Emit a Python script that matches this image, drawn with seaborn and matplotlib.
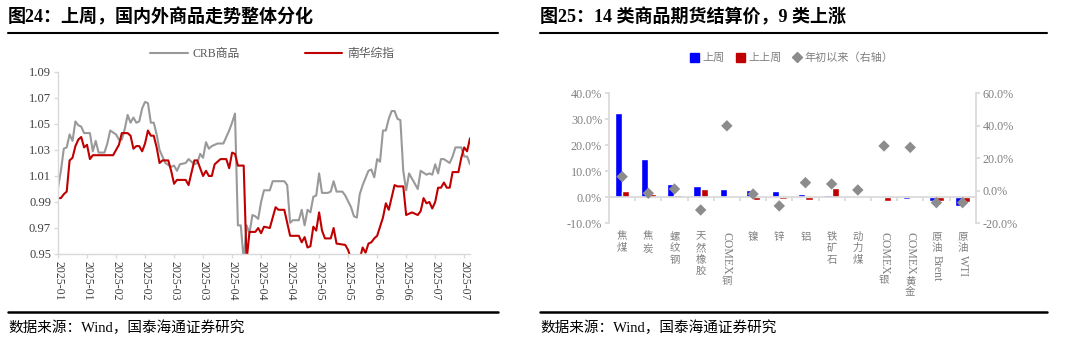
import matplotlib
matplotlib.use("Agg")
import matplotlib.pyplot as plt
import seaborn as sns
import numpy as np
import pandas as pd
from matplotlib.lines import Line2D
from matplotlib.patches import Patch

# ---------------- data: left chart (trading-day index, value) ----------------
crb_day = [0, 1, 2, 3, 4, 5, 6, 7, 8, 9, 10, 11, 12, 13, 14, 16, 17, 18, 20, 21, 22, 23, 24, 25,
           26, 27, 28, 29, 30, 31, 32, 33, 34, 35, 36, 37, 39, 40, 41, 42, 44, 45, 47, 48, 49, 50,
           51, 52, 53, 55, 57, 59, 60, 61, 62, 63, 64, 65, 66, 67, 68, 69, 70, 71, 73, 74, 78, 79,
           80, 81, 83, 84, 85, 86, 87, 88, 89, 90, 91, 93, 94, 95, 96, 98, 99, 101, 102, 103, 104,
           105, 107, 108, 109, 110, 111, 112, 113, 114, 115, 116, 117, 118, 119, 120, 121, 124,
           125, 127, 128, 129, 130, 131, 132, 133, 135, 136, 137, 139, 140, 141, 142]
crb_value = [1.001, 1.014, 1.031, 1.032, 1.042, 1.037, 1.052, 1.049, 1.048, 1.043, 1.043, 1.043,
             1.029, 1.037, 1.028, 1.028, 1.035, 1.045, 1.042, 1.038, 1.038, 1.046, 1.057, 1.051,
             1.055, 1.051, 1.052, 1.062, 1.067, 1.066, 1.051, 1.051, 1.042, 1.030, 1.025, 1.020,
             1.017, 1.018, 1.014, 1.019, 1.020, 1.023, 1.019, 1.020, 1.027, 1.024, 1.036, 1.031,
             1.033, 1.035, 1.035, 1.045, 1.051, 1.058, 0.972, 0.972, 0.945, 0.972, 0.966, 0.980,
             0.979, 0.977, 0.990, 0.999, 0.999, 1.006, 1.006, 1.003, 0.974, 0.976, 0.976, 0.984,
             0.972, 0.984, 0.982, 0.994, 0.995, 1.012, 0.997, 0.997, 0.998, 1.006, 0.998, 0.998,
             0.995, 0.986, 0.979, 0.978, 0.996, 1.003, 1.014, 1.015, 1.009, 1.023, 1.021, 1.045,
             1.045, 1.054, 1.060, 1.060, 1.054, 1.053, 1.014, 0.999, 1.012, 1.000, 1.014, 1.011,
             1.012, 1.011, 1.019, 1.012, 1.023, 1.023, 1.020, 1.025, 1.032, 1.032, 1.025, 1.025,
             1.019]

nh_day = [0, 1, 2, 3, 4, 5, 6, 7, 8, 9, 10, 11, 12, 19, 21, 22, 24, 25, 26, 27, 28, 29, 30, 31,
          32, 33, 34, 35, 36, 38, 39, 40, 41, 44, 45, 47, 48, 50, 51, 52, 53, 54, 56, 58, 59, 60,
          61, 62, 64, 65, 66, 68, 69, 70, 71, 73, 75, 76, 78, 80, 83, 84, 85, 86, 87, 88, 89, 90,
          91, 92, 94, 95, 96, 99, 100, 101, 104, 105, 106, 107, 108, 109, 110, 112, 113, 114, 116,
          117, 119, 120, 121, 122, 124, 125, 126, 127, 128, 129, 130, 131, 132, 133, 134, 135, 136,
          138, 139, 140, 141, 142]
nh_value = [0.993, 0.993, 0.996, 0.998, 1.022, 1.024, 1.033, 1.038, 1.040, 1.032, 1.034, 1.023,
            1.026, 1.026, 1.034, 1.043, 1.043, 1.041, 1.031, 1.033, 1.033, 1.029, 1.035, 1.045,
            1.041, 1.041, 1.032, 1.020, 1.022, 1.022, 1.014, 1.004, 1.007, 1.007, 1.003, 1.022,
            1.022, 1.010, 1.014, 1.010, 1.010, 1.019, 1.023, 1.023, 1.016, 1.028, 1.027, 1.018,
            1.018, 0.945, 0.967, 0.967, 0.970, 0.966, 0.971, 0.970, 0.986, 0.984, 0.984, 0.964,
            0.964, 0.959, 0.963, 0.955, 0.956, 0.971, 0.968, 0.982, 0.968, 0.962, 0.962, 0.970,
            0.958, 0.957, 0.953, 0.946, 0.946, 0.955, 0.951, 0.958, 0.959, 0.962, 0.964, 0.978,
            0.989, 0.984, 1.003, 1.002, 1.002, 0.980, 0.981, 0.982, 0.980, 0.983, 0.993, 0.989,
            0.990, 0.985, 0.990, 1.001, 1.001, 1.005, 1.001, 1.001, 1.013, 1.013, 1.024, 1.032,
            1.029, 1.039]

date_labels = ["2025-01", "2025-01", "2025-02", "2025-02", "2025-03", "2025-03", "2025-04",
               "2025-04", "2025-04", "2025-05", "2025-05", "2025-06", "2025-06", "2025-07",
               "2025-07"]
left_yticks = [0.95, 0.97, 0.99, 1.01, 1.03, 1.05, 1.07, 1.09]

# ---------------- data: right chart (%) ----------------
categories = ["焦煤", "焦炭", "螺纹钢", "天然橡胶", "COMEX铜", "镍", "锌", "铝", "铁矿石",
              "动力煤", "COMEX银", "COMEX黄金", "原油Brent", "原油WTI"]
last_week = [32.5, 14.7, 5.2, 4.4, 3.3, 3.0, 2.5, 1.4, 1.0, 0.0, -0.3, -0.6, -1.4, -3.3]
prev_week = [2.5, 1.3, 0.8, 3.3, 0.0, -1.0, -0.6, -1.2, 3.4, 0.0, -1.4, -0.3, -1.6, -1.7]
ytd = [8.7, -1.5, 1.1, -11.8, 40.0, -2.0, -9.3, 5.0, 4.2, 0.5, 27.6, 26.7, -7.3, -7.3]

# ---------------- style ----------------
sns.set_theme(style="white")
plt.rcParams["font.family"] = ["Liberation Serif", "Noto Sans CJK SC", "DejaVu Sans"]
plt.rcParams["axes.unicode_minus"] = False

GRAY = "#999999"
RED = "#C00000"
BLUE = "#0000FF"
SPINE = "#d9d9d9"
TXT = "#404040"
LTXT = "#808080"

fig = plt.figure(figsize=(10.8, 3.55), dpi=100)
W, H = 1080.0, 355.0


def fx(px):
    return px / W


def fy(py):
    return 1 - py / H


# ---------------- left chart ----------------
ax1 = fig.add_axes([fx(58), fy(254), fx(470) - fx(58), fy(72) - fy(254)])
df_crb = pd.DataFrame({"day": crb_day, "value": crb_value})
df_nh = pd.DataFrame({"day": nh_day, "value": nh_value})
sns.lineplot(data=df_crb, x="day", y="value", ax=ax1, color=GRAY, lw=1.5,
             estimator=None, sort=False)
sns.lineplot(data=df_nh, x="day", y="value", ax=ax1, color=RED, lw=1.5,
             estimator=None, sort=False)
ax1.set_xlim(0, 142)
ax1.set_ylim(0.95, 1.09)
ax1.set_xticks(np.arange(0, 10 * len(date_labels), 10))
ax1.set_xticklabels(date_labels, rotation=-90, fontsize=8.5, color=TXT)
ax1.set_yticks(left_yticks)
ax1.set_yticklabels([f"{v:.2f}" for v in left_yticks], fontsize=9, color=TXT)
ax1.set_xlabel("")
ax1.set_ylabel("")
for s in ["top", "right"]:
    ax1.spines[s].set_visible(False)
for s in ["left", "bottom"]:
    ax1.spines[s].set_color(SPINE)
    ax1.spines[s].set_linewidth(1.0)
ax1.tick_params(axis="both", bottom=True, left=True, length=3, color=SPINE, width=1, pad=2)
leg1 = fig.legend(handles=[Line2D([], [], color=GRAY, lw=1.5), Line2D([], [], color=RED, lw=1.5)],
                  labels=["CRB商品", "南华综指"], loc="center", bbox_to_anchor=(fx(272), fy(54)),
                  ncol=2, frameon=False, fontsize=8.5, handlelength=3.2, columnspacing=5.5,
                  handletextpad=0.4)
for t in leg1.get_texts():
    t.set_color("#595959")

# ---------------- right chart ----------------
ax2 = fig.add_axes([fx(609), fy(223.3), fx(975.7) - fx(609), fy(93.3) - fy(223.3)])
df_bar = pd.DataFrame({
    "cat": categories * 2,
    "series": ["上周"] * len(categories) + ["上上周"] * len(categories),
    "value": last_week + prev_week,
})
sns.barplot(data=df_bar, x="cat", y="value", hue="series", order=categories,
            hue_order=["上周", "上上周"], palette=[BLUE, RED], width=0.56,
            errorbar=None, ax=ax2, legend=False, saturation=1)
ax2.set_xlim(-0.5, len(categories) - 0.5)
ax2.set_ylim(-10, 40)
lt = np.arange(-10, 41, 10)
ax2.set_yticks(lt)
ax2.set_yticklabels([f"{v:.1f}%" for v in lt], fontsize=8.7, color=LTXT)
ax2.set_xlabel("")
ax2.set_ylabel("")
ax2.spines["top"].set_visible(False)
ax2.spines["right"].set_visible(False)
ax2.spines["left"].set_color(SPINE)
ax2.spines["bottom"].set_color(SPINE)
ax2.spines["bottom"].set_position(("data", 0))
ax2.set_xticks(np.arange(0.5, len(categories) - 0.5, 1))
ax2.set_xticklabels([])
ax2.tick_params(axis="x", bottom=True, length=3, color=SPINE, direction="out")
ax2.tick_params(axis="y", left=True, length=3, color=SPINE, pad=2)

ax2r = ax2.twinx()
sns.scatterplot(x=np.arange(len(categories)), y=ytd, marker="D", s=34, color="#8c8c8c",
                edgecolor="none", ax=ax2r, zorder=5)
ax2r.set_ylim(-20, 60)
rt = np.arange(-20, 61, 20)
ax2r.set_yticks(rt)
ax2r.set_yticklabels([f"{v:.1f}%" for v in rt], fontsize=8.7, color=LTXT)
ax2r.set_xlim(-0.5, len(categories) - 0.5)
for s in ["top", "left", "bottom"]:
    ax2r.spines[s].set_visible(False)
ax2r.spines["right"].set_color(SPINE)
ax2r.tick_params(axis="y", right=True, length=3, color=SPINE, pad=2)
ax2r.grid(False)
ax2.grid(False)

# category labels: CJK upright & stacked, Latin rotated
fig.canvas.draw()
renderer = fig.canvas.get_renderer()
CAT_COLOR = "#7f7f7f"
for i, lab in enumerate(categories):
    segs = []
    for ch in lab:
        is_ascii = ord(ch) < 128
        if segs and segs[-1][0] == is_ascii:
            segs[-1][1] += ch
        else:
            segs.append([is_ascii, ch])
    off = 6.0
    for is_ascii, seg in segs:
        if is_ascii:
            t = ax2.annotate(seg, xy=(i, 0), xycoords=("data", "axes fraction"),
                             xytext=(0, -off), textcoords="offset points", rotation=-90,
                             ha="center", va="top", fontsize=8.5, color=CAT_COLOR)
            bb = t.get_window_extent(renderer)
            off += bb.height * 72.0 / fig.dpi + 1.0
        else:
            for ch in seg:
                ax2.annotate(ch, xy=(i, 0), xycoords=("data", "axes fraction"),
                             xytext=(0, -off), textcoords="offset points",
                             ha="center", va="top", fontsize=7.5, color=CAT_COLOR,
                             family=["Noto Sans CJK SC"])
                off += 8.3

leg2 = fig.legend(handles=[Patch(color=BLUE), Patch(color=RED),
                           Line2D([], [], marker="D", color="#8c8c8c", lw=0, markersize=5)],
                  labels=["上周", "上上周", "年初以来（右轴）"], loc="center",
                  bbox_to_anchor=(fx(792), fy(58)), ncol=3, frameon=False, fontsize=8,
                  handlelength=0.8, handleheight=0.8, columnspacing=1.0, handletextpad=0.3)
for t in leg2.get_texts():
    t.set_color(LTXT)

# ---------------- titles, rules, sources ----------------
HEAD = ["Liberation Serif", "Noto Sans CJK SC"]
fig.text(fx(8), fy(17), "图24：上周，国内外商品走势整体分化", fontsize=13, fontweight="bold",
         va="center", ha="left", family=HEAD, color="black")
fig.text(fx(540), fy(17), "图25：14 类商品期货结算价，9 类上涨", fontsize=13, fontweight="bold",
         va="center", ha="left", family=HEAD, color="black")
fig.text(fx(8), fy(328), "数据来源：Wind，国泰海通证券研究", fontsize=10.5,
         va="center", ha="left", family=HEAD, color="black")
fig.text(fx(540), fy(328), "数据来源：Wind，国泰海通证券研究", fontsize=10.5,
         va="center", ha="left", family=HEAD, color="black")
for (x0, x1) in [(8, 498), (540, 1047)]:
    fig.add_artist(Line2D([fx(x0), fx(x1)], [fy(33), fy(33)], color="black", lw=1.5,
                          transform=fig.transFigure))
    fig.add_artist(Line2D([fx(x0), fx(x1)], [fy(312), fy(312)], color="black", lw=1.8,
                          transform=fig.transFigure))

fig.savefig("out.png", dpi=100)
